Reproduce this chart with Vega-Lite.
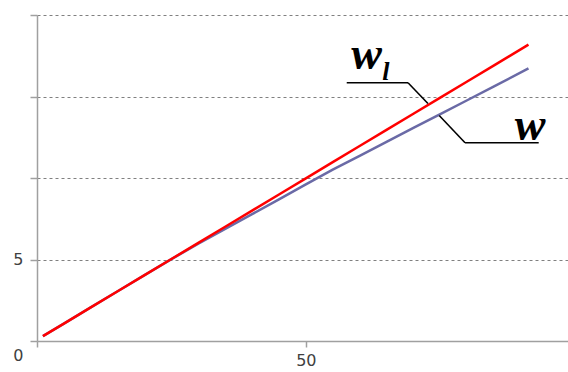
{
  "$schema": "https://vega.github.io/schema/vega-lite/v6.json",
  "width": 531,
  "height": 326,
  "autosize": {"type": "none"},
  "padding": {"left": 37, "top": 15, "right": 0, "bottom": 31},
  "background": "white",
  "config": {"view": {"stroke": null}},
  "datasets": {
    "series": [
      {"x": 1.1, "y": 0.3, "s": "w"}, {"x": 5, "y": 1.07, "s": "w"}, {"x": 10, "y": 2.06, "s": "w"},
      {"x": 15, "y": 3.05, "s": "w"}, {"x": 20, "y": 4.04, "s": "w"}, {"x": 25, "y": 5.02, "s": "w"},
      {"x": 30, "y": 5.97, "s": "w"}, {"x": 35, "y": 6.88, "s": "w"}, {"x": 40, "y": 7.78, "s": "w"},
      {"x": 45, "y": 8.69, "s": "w"}, {"x": 50, "y": 9.61, "s": "w"}, {"x": 55, "y": 10.51, "s": "w"},
      {"x": 60, "y": 11.36, "s": "w"}, {"x": 65, "y": 12.21, "s": "w"}, {"x": 70, "y": 13.07, "s": "w"},
      {"x": 75, "y": 13.92, "s": "w"}, {"x": 80, "y": 14.77, "s": "w"}, {"x": 85, "y": 15.62, "s": "w"},
      {"x": 91.4, "y": 16.72, "s": "w"},
      {"x": 1.1, "y": 0.3, "s": "wl"}, {"x": 5, "y": 1.07, "s": "wl"}, {"x": 10, "y": 2.06, "s": "wl"},
      {"x": 15, "y": 3.05, "s": "wl"}, {"x": 20, "y": 4.04, "s": "wl"}, {"x": 25, "y": 5.03, "s": "wl"},
      {"x": 30, "y": 6.02, "s": "wl"}, {"x": 35, "y": 7.01, "s": "wl"}, {"x": 40, "y": 8.0, "s": "wl"},
      {"x": 45, "y": 8.99, "s": "wl"}, {"x": 50, "y": 9.98, "s": "wl"}, {"x": 55, "y": 10.97, "s": "wl"},
      {"x": 60, "y": 11.96, "s": "wl"}, {"x": 65, "y": 12.95, "s": "wl"}, {"x": 70, "y": 13.94, "s": "wl"},
      {"x": 75, "y": 14.93, "s": "wl"}, {"x": 80, "y": 15.92, "s": "wl"}, {"x": 85, "y": 16.91, "s": "wl"},
      {"x": 91.4, "y": 18.18, "s": "wl"}
    ],
    "leaders": [
      {"x": 57.6, "y": 15.84, "x2": 69.0, "y2": 15.84},
      {"x": 69.0, "y": 15.84, "x2": 72.7, "y2": 14.57},
      {"x": 79.6, "y": 12.16, "x2": 93.3, "y2": 12.16},
      {"x": 79.6, "y": 12.16, "x2": 74.8, "y2": 13.83}
    ],
    "bigLabels": [
      {"x": 61.3, "y": 16.66, "t": "w"},
      {"x": 91.7, "y": 12.36, "t": "w"}
    ],
    "subLabels": [
      {"x": 64.9, "y": 16.04, "t": "l"}
    ]
  },
  "layer": [
    {
      "data": {"name": "series"},
      "mark": {"type": "line", "strokeWidth": 2.5, "clip": true},
      "encoding": {
        "x": {
          "field": "x", "type": "quantitative",
          "scale": {"domain": [0, 98.75], "nice": false, "zero": false},
          "axis": {
            "title": null, "values": [0, 50], "grid": false,
            "domainColor": "#a0a0a0", "domainWidth": 1.5,
            "tickColor": "#a0a0a0", "tickWidth": 1.5, "tickSize": 6,
            "labelExpr": "datum.value == 50 ? '50' : ''",
            "labelFont": "DejaVu Sans", "labelFontSize": 16, "labelColor": "#404040",
            "labelPadding": 5
          }
        },
        "y": {
          "field": "y", "type": "quantitative",
          "scale": {"domain": [0, 20], "nice": false},
          "axis": {
            "title": null, "values": [0, 5, 10, 15, 20],
            "grid": true, "gridColor": "#808080", "gridDash": [3, 3], "gridWidth": 1,
            "gridOpacity": {"condition": {"test": "datum.value == 0", "value": 0}, "value": 1},
            "domainColor": "#a0a0a0", "domainWidth": 1.5,
            "tickColor": "#a0a0a0", "tickWidth": 1.5, "tickSize": 7,
            "labelExpr": "datum.value == 0 ? '0' : datum.value == 5 ? '5' : ''",
            "labelOffset": {"condition": {"test": "datum.value == 0", "value": 14}, "value": 0},
            "labelFont": "DejaVu Sans", "labelFontSize": 16, "labelColor": "#404040",
            "labelPadding": 7
          }
        },
        "color": {
          "field": "s", "type": "nominal",
          "scale": {"domain": ["w", "wl"], "range": ["#6a6aa6", "#ff0000"]},
          "legend": null
        }
      }
    },
    {
      "data": {"name": "leaders"},
      "mark": {"type": "rule", "color": "#000000", "strokeWidth": 1.6},
      "encoding": {
        "x": {"field": "x", "type": "quantitative"},
        "y": {"field": "y", "type": "quantitative"},
        "x2": {"field": "x2"},
        "y2": {"field": "y2"}
      }
    },
    {
      "data": {"name": "bigLabels"},
      "mark": {"type": "text", "font": "Liberation Serif", "fontSize": 46, "fontStyle": "italic", "fontWeight": "bold", "align": "center", "baseline": "alphabetic", "color": "#000000"},
      "encoding": {
        "x": {"field": "x", "type": "quantitative"},
        "y": {"field": "y", "type": "quantitative"},
        "text": {"field": "t"}
      }
    },
    {
      "data": {"name": "subLabels"},
      "mark": {"type": "text", "font": "Liberation Serif", "fontSize": 26, "fontStyle": "italic", "fontWeight": "bold", "align": "center", "baseline": "alphabetic", "color": "#000000"},
      "encoding": {
        "x": {"field": "x", "type": "quantitative"},
        "y": {"field": "y", "type": "quantitative"},
        "text": {"field": "t"}
      }
    }
  ]
}
